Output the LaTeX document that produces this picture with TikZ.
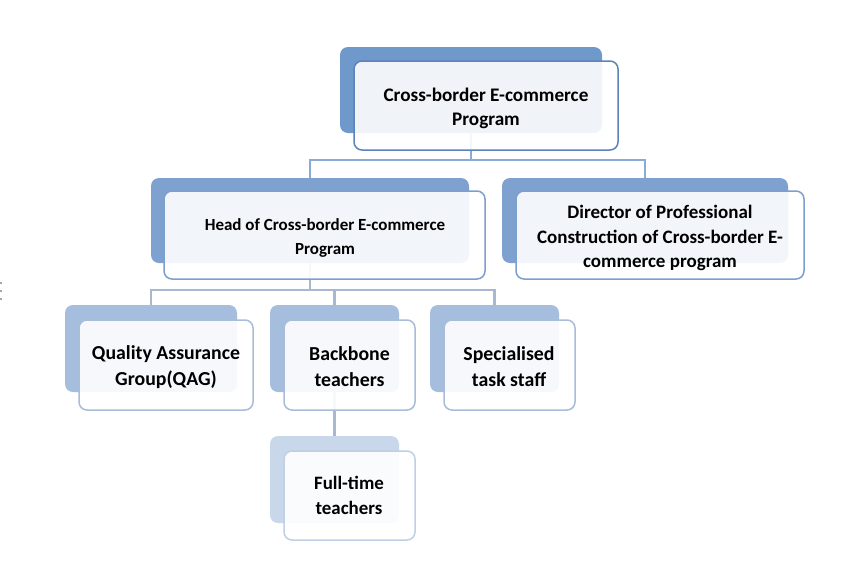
\documentclass[tikz,border=0pt]{standalone}
\usepackage{fontspec}
\setmainfont{Carlito}
\usetikzlibrary{backgrounds}
\definecolor{backA}{HTML}{6F98CB}
\definecolor{backB}{HTML}{7FA1CF}
\definecolor{backC}{HTML}{A6BEDE}
\definecolor{backD}{HTML}{C8D7EA}
\definecolor{edgeA}{HTML}{5C84BB}
\definecolor{edgeB}{HTML}{7D9FCC}
\definecolor{edgeC}{HTML}{A9BCD9}
\definecolor{edgeD}{HTML}{C0CFE4}
\definecolor{linkA}{HTML}{8AABD6}
\definecolor{linkB}{HTML}{A9B8D1}
\begin{document}
\begin{tikzpicture}[x=1pt,y=-1pt,
  backbox/.style={rectangle, rounded corners=8pt, inner sep=0pt, outer sep=0pt},
  frontbox/.style={rectangle, rounded corners=8pt, inner sep=0pt, outer sep=0pt,
     fill=white, fill opacity=0.9, line width=1.5pt},
  boxtext/.style={inner sep=0pt, align=center, text=black},
  linkone/.style={draw=linkA, line width=2.6pt},
  linktwo/.style={draw=linkB, line width=2.6pt}]
\useasboundingbox (0,0) rectangle (868,574);

% level 1
\node[backbox, fill=backA, minimum width=262pt, minimum height=86pt] (topb) at (471,90) {};
\node[frontbox, draw=edgeA, minimum width=264pt, minimum height=89pt] (topf) at (486,105.5) {};
\node[boxtext, font=\fontsize{19.2}{24}\selectfont\bfseries] (topt) at (486,108) {Cross-border E-commerce\\Program};

% level 2
\node[backbox, fill=backB, minimum width=318pt, minimum height=85pt] (headb) at (310,220.5) {};
\node[frontbox, draw=edgeB, minimum width=321pt, minimum height=88pt] (headf) at (324.5,235) {};
\node[boxtext, font=\fontsize{17}{24}\selectfont\bfseries] (headt) at (325,237.5) {Head of Cross-border E-commerce\\Program};

\node[backbox, fill=backB, minimum width=286pt, minimum height=85pt] (dirb) at (645,220.5) {};
\node[frontbox, draw=edgeB, minimum width=288pt, minimum height=88pt] (dirf) at (660,235) {};
\node[boxtext, font=\fontsize{19}{24.5}\selectfont\bfseries] (dirt) at (660,238) {Director of Professional\\Construction of Cross-border E-\\commerce program};

% level 3
\node[backbox, fill=backC, minimum width=172pt, minimum height=87pt] (qagb) at (151,348.5) {};
\node[frontbox, draw=edgeC, minimum width=174pt, minimum height=90pt] (qagf) at (166,365) {};
\node[boxtext, font=\fontsize{19.8}{26}\selectfont\bfseries] (qagt) at (166,367) {Quality Assurance\\Group(QAG)};

\node[backbox, fill=backC, minimum width=129pt, minimum height=87pt] (bbb) at (334.5,348.5) {};
\node[frontbox, draw=edgeC, minimum width=131pt, minimum height=90pt] (bbf) at (349.5,365) {};
\node[boxtext, font=\fontsize{19.8}{26}\selectfont\bfseries] (bbt) at (349.5,367) {Backbone\\teachers};

\node[backbox, fill=backC, minimum width=129pt, minimum height=87pt] (spb) at (494.5,348.5) {};
\node[frontbox, draw=edgeC, minimum width=131pt, minimum height=90pt] (spf) at (509.5,365) {};
\node[boxtext, font=\fontsize{19.8}{26}\selectfont\bfseries] (spt) at (509,367) {Specialised\\task staff};

% level 4
\node[backbox, fill=backD, minimum width=129pt, minimum height=87pt] (ftb) at (334.5,479.5) {};
\node[frontbox, draw=edgeD, minimum width=131pt, minimum height=89pt] (ftf) at (349.5,495.5) {};
\node[boxtext, font=\fontsize{18.9}{25}\selectfont\bfseries] (ftt) at (349,495.5) {Full-time\\teachers};

% background and connectors
\begin{scope}[on background layer]
\fill[white] (0,0) rectangle (868,574);
\foreach \yy in {283,291,299} \fill[gray!70] (0,\yy-1) rectangle (2,\yy+1);
\coordinate (j1) at (471,160);
\coordinate (j2) at (310,290);
\draw[linkone] (topb.south) -- (j1);
\draw[linkone] (j1) -| (headb.north);
\draw[linkone] (j1) -| (dirb.north);
\draw[linktwo] (headb.south) -- (j2);
\draw[linktwo] (j2) -| (qagb.north);
\draw[linktwo] (j2) -| (bbb.north);
\draw[linktwo] (j2) -| (spb.north);
\draw[linktwo] (bbb.south) -- (ftb.north);
\end{scope}
\end{tikzpicture}
\end{document}
